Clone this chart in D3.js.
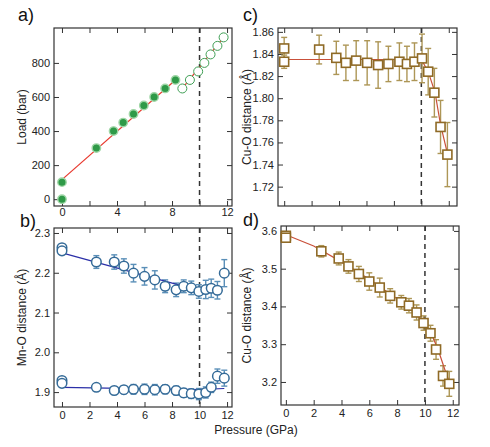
<!DOCTYPE html>
<html>
<head>
<meta charset="utf-8">
<script src="https://cdn.jsdelivr.net/npm/d3@7"></script>
<style>
  body { margin: 0; background: #fff; }
  svg { font-family: "Liberation Sans", Arial, sans-serif; }
  .tick text { font-size: 11px; fill: #222; }
</style>
</head>
<body>
<div id="chart"></div>
<script>
// ---- data ----
// a) load vs pressure
var loadP = [0, 0, 2.5, 3.75, 4.45, 5.2, 5.95, 6.7, 7.5, 8.25];
var loadV = [0, 100, 300, 400, 450, 500, 550, 600, 650, 700];
var loadOpenP = [8.75, 9.3, 9.9, 10.35, 10.8, 11.3, 11.75];
var loadOpenV = [650, 700, 750, 800, 850, 900, 950];
var loadFit = [[0, 115], [8.25, 700]];
var loadOpenFit = [[8.75, 650], [11.75, 950]];

// b) Mn-O distances
var mnP = [0, 0, 2.5, 3.8, 4.5, 5.2, 6.0, 6.75, 7.5, 8.3, 8.85, 9.4, 9.95, 10.45, 10.85, 11.3, 11.8];
var mnLong = [2.263, 2.255, 2.227, 2.227, 2.217, 2.199, 2.191, 2.182, 2.166, 2.157, 2.166, 2.162, 2.153, 2.158, 2.161, 2.156, 2.199];
var mnLongErr = [0.006, 0.006, 0.016, 0.018, 0.018, 0.022, 0.022, 0.023, 0.016, 0.017, 0.016, 0.017, 0.017, 0.023, 0.023, 0.022, 0.034];
var mnShort = [1.929, 1.922, 1.912, 1.904, 1.906, 1.907, 1.907, 1.906, 1.907, 1.904, 1.898, 1.896, 1.895, 1.899, 1.912, 1.940, 1.935];
var mnShortErr = [0.005, 0.005, 0.008, 0.010, 0.010, 0.012, 0.013, 0.013, 0.011, 0.011, 0.011, 0.012, 0.014, 0.014, 0.013, 0.018, 0.020];
var mnLongFit = [[0, 2.250], [10, 2.155]];
var mnShortFit = [[0, 1.912], [9.9, 1.906], [11.8, 1.909]];

// c) Cu-O short distance
var cuP = [0, 0, 2.55, 3.8, 4.5, 5.25, 6.05, 6.85, 7.6, 8.4, 8.95, 9.5, 10.05, 10.5, 10.95, 11.4, 11.9];
var cuShort = [1.845, 1.833, 1.844, 1.8365, 1.832, 1.834, 1.832, 1.830, 1.831, 1.833, 1.831, 1.833, 1.836, 1.824, 1.805, 1.774, 1.749];
var cuShortErr = [0.010, 0.006, 0.013, 0.015, 0.016, 0.018, 0.020, 0.021, 0.016, 0.017, 0.016, 0.017, 0.022, 0.021, 0.022, 0.024, 0.029];
var cuShortFit = [[0, 1.835], [10, 1.835], [10.5, 1.824], [11, 1.805], [11.4, 1.776], [11.9, 1.750]];

// d) Cu-O long distance
var cuLP = [0, 0, 2.55, 3.8, 4.5, 5.25, 6.0, 6.75, 7.5, 8.3, 8.85, 9.4, 9.9, 10.4, 10.8, 11.3, 11.75];
var cuLong = [3.587, 3.582, 3.546, 3.527, 3.506, 3.486, 3.466, 3.450, 3.428, 3.411, 3.402, 3.384, 3.356, 3.329, 3.286, 3.216, 3.195];
var cuLongErr = [0.006, 0.006, 0.015, 0.017, 0.018, 0.020, 0.023, 0.025, 0.019, 0.018, 0.019, 0.020, 0.019, 0.021, 0.026, 0.027, 0.033];
var cuLongFit = [[0, 3.590], [2, 3.560], [4, 3.518], [6, 3.472], [8, 3.420], [9, 3.392], [10, 3.355], [10.5, 3.325], [11, 3.280], [11.5, 3.225], [11.9, 3.185]];

var transitionP = 10;

// ---- layout ----
var svg = d3.select("#chart").append("svg")
    .attr("width", 490)
    .attr("height", 447);

function makePanel(opt) {
    var x = d3.scaleLinear().domain(opt.xDomain).range([opt.left, opt.right]);
    var y = d3.scaleLinear().domain(opt.yDomain).range([opt.bottom, opt.top]);
    var g = svg.append("g");

    // axes, ticks pointing inward
    var bottom = g.append("g").attr("transform", `translate(0,${opt.bottom})`)
        .call(d3.axisBottom(x).tickValues(opt.xTicks).tickSize(-5).tickPadding(opt.xPad)
            .tickFormat(d => opt.xLabels.indexOf(d) >= 0 ? d : ""));
    var top = g.append("g").attr("transform", `translate(0,${opt.top})`)
        .call(d3.axisTop(x).tickValues(opt.xTicks).tickSize(-5).tickFormat(""));
    var left = g.append("g").attr("transform", `translate(${opt.left},0)`)
        .call(d3.axisLeft(y).tickValues(opt.yTicks).tickSize(-5).tickPadding(4)
            .tickFormat(opt.yFormat));
    var right = g.append("g").attr("transform", `translate(${opt.right},0)`)
        .call(d3.axisRight(y).tickValues(opt.yTicks).tickSize(-5).tickFormat(""));
    [bottom, top, left, right].forEach(function(a) {
        a.select(".domain").remove();
        a.selectAll("line").attr("stroke", "#333").attr("stroke-width", 1);
    });

    g.append("rect")
        .attr("x", opt.left).attr("y", opt.top)
        .attr("width", opt.right - opt.left).attr("height", opt.bottom - opt.top)
        .attr("fill", "none").attr("stroke", "#333").attr("stroke-width", 1.2);

    g.append("line")
        .attr("x1", x(transitionP)).attr("x2", x(transitionP))
        .attr("y1", opt.top).attr("y2", opt.bottom)
        .attr("stroke", "#333").attr("stroke-width", 1.5)
        .attr("stroke-dasharray", "5,4");

    // y label
    g.append("text")
        .attr("transform", `translate(${opt.yLabelX},${(opt.top + opt.bottom) / 2}) rotate(-90)`)
        .attr("text-anchor", "middle")
        .attr("font-size", 12)
        .attr("fill", "#222")
        .text(opt.yLabel);

    g.append("text")
        .attr("x", opt.letterX).attr("y", opt.letterY)
        .attr("font-size", 18)
        .attr("fill", "#111")
        .text(opt.letter);

    return { x: x, y: y, g: g };
}

function drawLine(p, pts, color, width) {
    p.g.append("path")
        .datum(pts)
        .attr("fill", "none")
        .attr("stroke", color)
        .attr("stroke-width", width)
        .attr("d", d3.line().x(d => p.x(d[0])).y(d => p.y(d[1])));
}

function drawErrors(p, xs, ys, es, color) {
    var eg = p.g.append("g").attr("stroke", color).attr("stroke-width", 1.4);
    xs.forEach(function(xv, i) {
        var cx = p.x(xv), y1 = p.y(ys[i] + es[i]), y2 = p.y(ys[i] - es[i]);
        eg.append("line").attr("x1", cx).attr("x2", cx).attr("y1", y1).attr("y2", y2);
        eg.append("line").attr("x1", cx - 3).attr("x2", cx + 3).attr("y1", y1).attr("y2", y1);
        eg.append("line").attr("x1", cx - 3).attr("x2", cx + 3).attr("y1", y2).attr("y2", y2);
    });
}

function drawCircles(p, xs, ys, r, stroke, fill, sw) {
    p.g.append("g").selectAll("circle")
        .data(xs)
        .enter()
        .append("circle")
        .attr("cx", d => p.x(d))
        .attr("cy", (d, i) => p.y(ys[i]))
        .attr("r", r)
        .attr("fill", fill)
        .attr("stroke", stroke)
        .attr("stroke-width", sw);
}

function drawSquares(p, xs, ys, s, stroke) {
    p.g.append("g").selectAll("rect")
        .data(xs)
        .enter()
        .append("rect")
        .attr("x", d => p.x(d) - s / 2)
        .attr("y", (d, i) => p.y(ys[i]) - s / 2)
        .attr("width", s)
        .attr("height", s)
        .attr("fill", "#fff")
        .attr("stroke", stroke)
        .attr("stroke-width", 1.6);
}

// a) Load
var pa = makePanel({
    left: 54, right: 232, top: 28, bottom: 206,
    xDomain: [-0.58, 12.36], yDomain: [-40, 1005],
    xTicks: [0, 2, 4, 6, 8, 10, 12], xLabels: [0, 4, 8, 12], xPad: 2,
    yTicks: [0, 200, 400, 600, 800], yFormat: d3.format("d"),
    yLabel: "Load (bar)", yLabelX: 26,
    letter: "a)", letterX: 18, letterY: 21
});
drawLine(pa, loadFit, "#e8372c", 1.2);
drawLine(pa, loadOpenFit, "#e8372c", 1.2);
drawCircles(pa, loadP, loadV, 4.2, "#9fd6a6", "#2f9a48", 1.4);
drawCircles(pa, loadOpenP, loadOpenV, 4.5, "#3f9f55", "#fff", 1);

// c) Cu-O short
var pc = makePanel({
    left: 278, right: 457, top: 28, bottom: 206,
    xDomain: [-0.45, 12.6], yDomain: [1.7025, 1.8635],
    xTicks: [0, 2, 4, 6, 8, 10, 12], xLabels: [], xPad: 2,
    yTicks: [1.72, 1.74, 1.76, 1.78, 1.80, 1.82, 1.84, 1.86], yFormat: d3.format(".2f"),
    yLabel: "Cu-O distance (Å)", yLabelX: 251,
    letter: "c)", letterX: 243, letterY: 21
});
drawErrors(pc, cuP, cuShort, cuShortErr, "#ad9656");
drawLine(pc, cuShortFit, "#c9503a", 1.2);
drawSquares(pc, cuP, cuShort, 9, "#8f6a26");

// b) Mn-O
var pb = makePanel({
    left: 54, right: 232, top: 228, bottom: 407,
    xDomain: [-0.58, 12.36], yDomain: [1.8625, 2.3125],
    xTicks: [0, 2, 4, 6, 8, 10, 12], xLabels: [0, 2, 4, 6, 8, 10, 12], xPad: 4,
    yTicks: [1.9, 2.0, 2.1, 2.2, 2.3], yFormat: d3.format(".1f"),
    yLabel: "Mn-O distance (Å)", yLabelX: 26,
    letter: "b)", letterX: 20, letterY: 227
});
drawErrors(pb, mnP, mnLong, mnLongErr, "#5a8fb8");
drawErrors(pb, mnP, mnShort, mnShortErr, "#5a8fb8");
drawLine(pb, mnLongFit, "#2b2fa8", 1.2);
drawLine(pb, mnShortFit, "#2b2fa8", 1.2);
drawCircles(pb, mnP, mnLong, 4.8, "#356b98", "#fff", 1.5);
drawCircles(pb, mnP, mnShort, 4.8, "#356b98", "#fff", 1.5);

// d) Cu-O long
var pd = makePanel({
    left: 281, right: 459, top: 226, bottom: 405,
    xDomain: [-0.35, 12.45], yDomain: [3.139, 3.613],
    xTicks: [0, 2, 4, 6, 8, 10, 12], xLabels: [0, 2, 4, 6, 8, 10, 12], xPad: 4,
    yTicks: [3.2, 3.3, 3.4, 3.5, 3.6], yFormat: d3.format(".1f"),
    yLabel: "Cu-O distance (Å)", yLabelX: 251,
    letter: "d)", letterX: 243, letterY: 226
});
drawErrors(pd, cuLP, cuLong, cuLongErr, "#ad9656");
drawLine(pd, cuLongFit, "#c9503a", 1.2);
drawSquares(pd, cuLP, cuLong, 9, "#8f6a26");

// shared x label
svg.append("text")
    .attr("x", 256).attr("y", 434)
    .attr("text-anchor", "middle")
    .attr("font-size", 12)
    .attr("fill", "#222")
    .text("Pressure (GPa)");
</script>
</body>
</html>
